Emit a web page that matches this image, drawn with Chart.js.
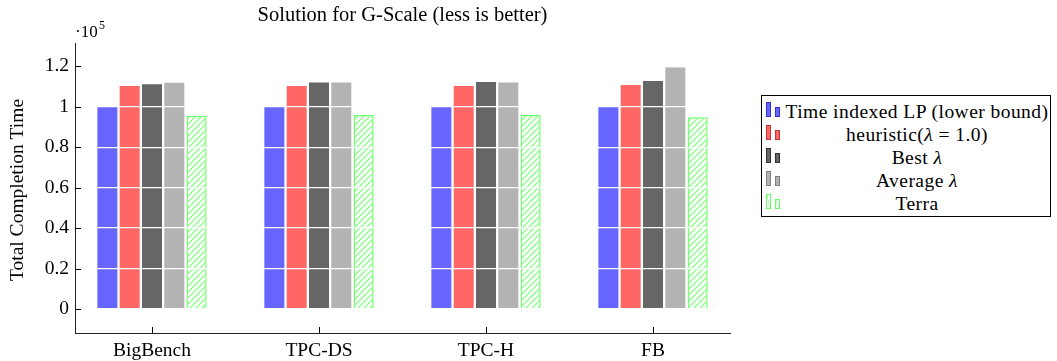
<!DOCTYPE html>
<html>
<head>
<meta charset="utf-8">
<script src="https://cdn.jsdelivr.net/npm/chart.js@4.4.1/dist/chart.umd.min.js"></script>
<style>
html, body { margin: 0; padding: 0; background: #fff; }
#wrap { position: relative; width: 1057px; height: 361px; }
#legend {
    position: absolute; left: 761px; top: 95px; width: 288px; height: 120px;
    border: 1px solid #000; background: #fff;
    font-family: 'Liberation Serif', serif; font-size: 19.5px; letter-spacing: 0.45px; color: #000;
}
.row { position: absolute; left: 0; right: 0; height: 23px; }
.sw { position: absolute; box-sizing: border-box; border: 1px solid; }
.txt { position: absolute; left: 22px; right: 0; top: 0; text-align: center; line-height: 23px; white-space: nowrap; }
</style>
</head>
<body>
<div id="wrap">
    <canvas id="chart" width="1057" height="361"></canvas>
    <div id="legend"></div>
</div>
<script>
const categories = ['BigBench', 'TPC-DS', 'TPC-H', 'FB'];
const seriesNames = ['Time indexed LP (lower bound)', 'heuristic(λ = 1.0)', 'Best λ', 'Average λ', 'Terra'];
const lowerBound = [100000, 100000, 100000, 100000];
const heuristic  = [110200, 110200, 110200, 110700];
const bestLambda = [111100, 112000, 112200, 112700];
const avgLambda  = [111900, 112000, 112000, 119500];
const terra      = [95500, 95900, 95900, 94800];
const yTicks = [0, 20000, 40000, 60000, 80000, 100000, 120000];

const titleText = 'Solution for G-Scale (less is better)';
const yLabel = 'Total Completion Time';
const FONT = "'Liberation Serif', serif";

const canvas = document.getElementById('chart');
const ctx = canvas.getContext('2d');

// north east lines, like the pgfplots pattern
function hatchPattern() {
    const c = document.createElement('canvas');
    c.width = 6; c.height = 6;
    const g = c.getContext('2d');
    g.strokeStyle = '#8cff8c';
    g.lineWidth = 1.4;
    g.beginPath();
    g.moveTo(0, 6); g.lineTo(6, 0);
    g.moveTo(-1, 1); g.lineTo(1, -1);
    g.moveTo(5, 7); g.lineTo(7, 5);
    g.stroke();
    return ctx.createPattern(c, 'repeat');
}

const fills   = ['#6666ff', '#ff6666', '#666666', '#b3b3b3', hatchPattern()];
const edges   = ['#6666ff', '#ff6666', '#666666', '#b3b3b3', '#66ff66'];
const swEdges = ['#3333cc', '#cc3333', '#333333', '#808080', '#66ff66'];
const swFills = ['#6666ff', '#ff6666', '#666666', '#b3b3b3', '#ffffff'];
const series = [lowerBound, heuristic, bestLambda, avgLambda, terra];

const deco = {
    id: 'deco',
    afterDraw(chart) {
        const { ctx, chartArea: a, scales: { x, y } } = chart;
        ctx.save();
        ctx.strokeStyle = '#000';
        ctx.lineWidth = 1;
        ctx.beginPath();
        yTicks.forEach(v => {
            const p = Math.round(y.getPixelForValue(v)) + 0.5;
            ctx.moveTo(a.left, p); ctx.lineTo(a.left + 6, p);
        });
        categories.forEach((c, i) => {
            const p = Math.round(x.getPixelForValue(i)) + 0.5;
            ctx.moveTo(p, a.bottom); ctx.lineTo(p, a.bottom - 6);
        });
        ctx.stroke();

        ctx.fillStyle = '#000';
        ctx.textAlign = 'center';
        ctx.textBaseline = 'middle';
        ctx.font = '20.5px ' + FONT;
        ctx.fillText(titleText, (a.left + a.right) / 2, 16);

        ctx.textAlign = 'left';
        ctx.textBaseline = 'alphabetic';
        ctx.font = '17px ' + FONT;
        ctx.fillText('·10', a.left, 37);
        ctx.font = '12px ' + FONT;
        ctx.fillText('5', a.left + 24, 29);

        ctx.translate(18, 190);
        ctx.rotate(-Math.PI / 2);
        ctx.textAlign = 'center';
        ctx.textBaseline = 'middle';
        ctx.font = '19.5px ' + FONT;
        ctx.fillText(yLabel, 0, 0);
        ctx.restore();
    }
};

new Chart(ctx, {
    type: 'bar',
    data: {
        datasets: series.map((vals, k) => ({
            label: seriesNames[k],
            data: vals.map((v, i) => ({ x: i, y: v })),
            backgroundColor: fills[k],
            borderColor: edges[k],
            borderWidth: k === 4 ? 1.3 : 0,
            categoryPercentage: 0.668,
            barPercentage: 0.897
        }))
    },
    options: {
        responsive: false,
        animation: false,
        layout: { padding: { left: 0, right: 327, top: 43, bottom: 0 } },
        plugins: { legend: { display: false }, tooltip: { enabled: false }, title: { display: false } },
        scales: {
            x: {
                type: 'linear',
                offset: false,
                min: -0.461,
                max: 3.461,
                afterBuildTicks: s => { s.ticks = categories.map((c, i) => ({ value: i })); },
                afterFit: s => { s.height = 28; },
                grid: { display: false, drawTicks: false, offset: false },
                border: { display: true, color: '#222', width: 1 },
                ticks: {
                    callback: v => categories[v],
                    color: '#000',
                    padding: 6,
                    font: { family: FONT, size: 19.5 },
                    maxRotation: 0
                }
            },
            y: {
                min: -11860,
                max: 131500,
                afterBuildTicks: s => { s.ticks = yTicks.map(v => ({ value: v })); },
                afterFit: s => { s.width = 75; },
                grid: { color: '#ffffff', lineWidth: 1.2, drawTicks: false, z: 1 },
                border: { display: true, color: '#222', width: 1, z: 2 },
                ticks: {
                    callback: v => String(+(v / 1e5).toFixed(1)),
                    color: '#000',
                    padding: 6,
                    font: { family: FONT, size: 19.5 }
                }
            }
        }
    },
    plugins: [deco]
});

// legend
const legend = document.getElementById('legend');
seriesNames.forEach((name, k) => {
    const row = document.createElement('div');
    row.className = 'row';
    row.style.top = (3.5 + k * 23) + 'px';
    [[4, 2.5, 15], [13, 7.5, 10]].forEach(([l, t, h]) => {
        const sw = document.createElement('div');
        sw.className = 'sw';
        sw.style.left = l + 'px';
        sw.style.top = t + 'px';
        sw.style.width = '5px';
        sw.style.height = h + 'px';
        sw.style.borderColor = swEdges[k];
        sw.style.background = k === 4
            ? 'linear-gradient(to top right, #fff 40%, #8cff8c 50%, #fff 60%)'
            : swFills[k];
        row.appendChild(sw);
    });
    const t = document.createElement('div');
    t.className = 'txt';
    t.innerHTML = name.replace(/λ/g, '<i>λ</i>');
    row.appendChild(t);
    legend.appendChild(row);
});
</script>
</body>
</html>
